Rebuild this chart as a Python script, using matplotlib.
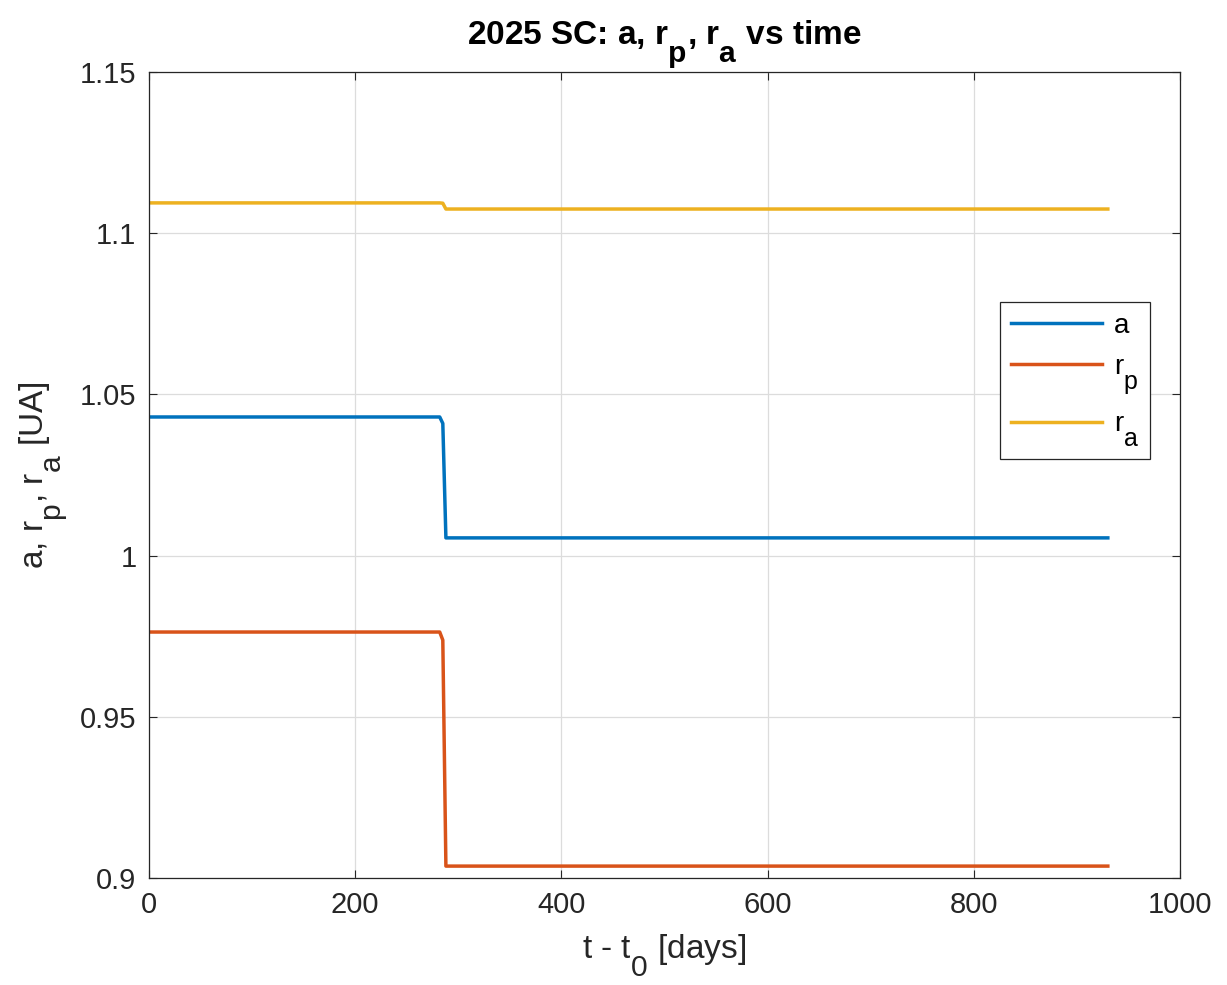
import matplotlib
matplotlib.use('Agg')
import matplotlib.pyplot as plt
from matplotlib.ticker import FuncFormatter
import matplotlib._mathtext as mt

plt.rcParams['font.family'] = ['Liberation Sans', 'DejaVu Sans']
plt.rcParams['mathtext.fontset'] = 'custom'
plt.rcParams['mathtext.rm'] = 'Liberation Sans'
plt.rcParams['mathtext.it'] = 'Liberation Sans'
plt.rcParams['mathtext.bf'] = 'Liberation Sans:bold'

# TeX-style subscripts: nearly full size and dropped low
mt.SHRINK_FACTOR = 0.9
mt.FontConstantsBase.sub1 = 1.0
mt.FontConstantsBase.sub2 = 1.0

# orbit elements over time (days since t0), in UA
t_days = [0, 282, 285, 288, 930]
a_ua = [1.0430, 1.0430, 1.0410, 1.0055, 1.0055]
rp_ua = [0.9763, 0.9763, 0.9738, 0.9037, 0.9037]
ra_ua = [1.1094, 1.1094, 1.1093, 1.1075, 1.1075]

# MATLAB default colour order
c_a = '#0072BD'
c_rp = '#D95319'
c_ra = '#EDB120'

fig = plt.figure(figsize=(12.27, 9.85), dpi=100)
ax = fig.add_axes([0.1214, 0.1086, 0.8403, 0.8183])

ax.plot(t_days, a_ua, color=c_a, lw=2.5, label='a')
ax.plot(t_days, rp_ua, color=c_rp, lw=2.5, label='r$_{p}$')
ax.plot(t_days, ra_ua, color=c_ra, lw=2.5, label='r$_{a}$')

ax.set_xlim(0, 1000)
ax.set_ylim(0.9, 1.15)
ax.set_xticks([0, 200, 400, 600, 800, 1000])
ax.set_yticks([0.9, 0.95, 1.0, 1.05, 1.1, 1.15])
ax.yaxis.set_major_formatter(FuncFormatter(lambda v, p: f'{v:g}'))

ax.grid(True, color='#dcdcdc', lw=0.9)
ax.set_axisbelow(True)
ax.tick_params(direction='in', labelsize=21, length=6, width=0.8,
               colors='#262626', top=True, right=True, pad=9)
ax.tick_params(labeltop=False, labelright=False)
for s in ax.spines.values():
    s.set_color('#262626')
    s.set_linewidth(0.9)

ax.set_xlabel('t - t$_{0}$ [days]', fontsize=24, color='#262626', labelpad=10)
ax.set_ylabel('a, r$_{p}$, r$_{a}$ [UA]', fontsize=24, color='#262626', labelpad=8)
ax.set_title('2025 SC: a, r$_{\\mathbf{p}}$, r$_{\\mathbf{a}}$ vs time', fontsize=24,
             fontweight='bold', pad=20)

leg = ax.legend(loc='upper right', bbox_to_anchor=(0.971, 0.715), fontsize=20,
                fancybox=False, framealpha=1, edgecolor='#262626',
                handlelength=3.3, handletextpad=0.4, labelspacing=0.55,
                borderpad=0.4, borderaxespad=0)
leg.get_frame().set_linewidth(0.9)

fig.savefig('out.png', dpi=100)
